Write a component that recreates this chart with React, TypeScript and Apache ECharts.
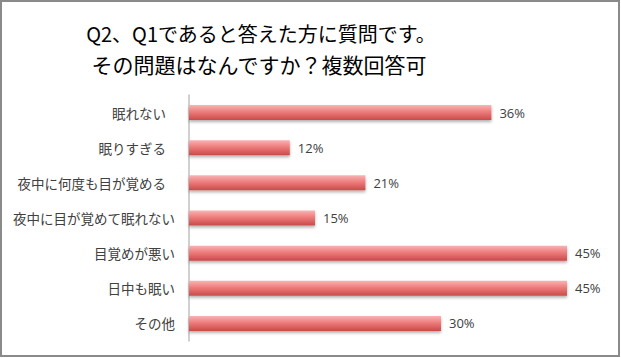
import React, { useEffect, useRef } from "react";
import * as echarts from "echarts";

const titleLines = ["Q2、Q1であると答えた方に質問です。", "その問題はなんですか？複数回答可"];
const categories = [
  "眠れない",
  "眠りすぎる",
  "夜中に何度も目が覚める",
  "夜中に目が覚めて眠れない",
  "目覚めが悪い",
  "日中も眠い",
  "その他",
];
const values = [36, 12, 21, 15, 45, 45, 30];
const paddedLabels = ["眠れない", "眠りすぎる", "夜中に何度も目が覚める"];

export default function App() {
  const ref = useRef<HTMLDivElement>(null);
  useEffect(() => {
    document.body.style.margin = "0";
    const chart = echarts.init(ref.current!, null, { renderer: "svg" });
    const jp = "'Noto Sans CJK JP', 'Noto Sans', sans-serif";
    chart.setOption({
      animation: false,
      backgroundColor: "#ffffff",
      graphic: [
        {
          type: "rect",
          shape: { x: 1, y: 1, width: 618, height: 355 },
          style: { fill: "none", stroke: "#8a8a8a", lineWidth: 2 },
          silent: true,
        },
        {
          type: "text",
          x: 261,
          y: 33,
          style: {
            text: titleLines[0],
            fontSize: 20,
            fontFamily: jp,
            fill: "#000000",
            textAlign: "center",
            textVerticalAlign: "middle",
          },
        },
        {
          type: "text",
          x: 259,
          y: 64,
          style: {
            text: titleLines[1],
            fontSize: 21,
            fontFamily: jp,
            fill: "#000000",
            textAlign: "center",
            textVerticalAlign: "middle",
          },
        },
      ],
      grid: { left: 189, top: 95, width: 420, height: 246, containLabel: false },
      xAxis: {
        type: "value",
        min: 0,
        max: 50,
        show: false,
      },
      yAxis: {
        type: "category",
        data: categories,
        inverse: true,
        axisLine: { show: true, lineStyle: { color: "#c0c0c0", width: 1.5 } },
        axisTick: { show: false },
        axisLabel: {
          margin: 14,
          fontSize: 13.5,
          fontFamily: jp,
          color: "#404040",
          formatter: (v: string) => (paddedLabels.includes(v) ? `{p|${v}}` : v),
          rich: {
            p: {
              fontSize: 13.5,
              fontFamily: jp,
              color: "#404040",
              padding: [0, 9, 0, 0],
            },
          },
        },
      },
      series: [
        {
          type: "bar",
          data: values,
          barWidth: 15,
          itemStyle: {
            color: new echarts.graphic.LinearGradient(0, 0, 0, 1, [
              { offset: 0, color: "#f9b3b3" },
              { offset: 0.45, color: "#ee7c7c" },
              { offset: 1, color: "#c94a48" },
            ]),
            shadowColor: "rgba(0,0,0,0.3)",
            shadowBlur: 3,
            shadowOffsetY: 2,
          },
          label: {
            show: true,
            position: "right",
            distance: 8,
            formatter: "{c}%",
            fontSize: 13,
            fontFamily: "'Open Sans', 'Noto Sans', sans-serif",
            color: "#404040",
          },
        },
      ],
    });
    return () => chart.dispose();
  }, []);
  return <div ref={ref} style={{ width: 621, height: 358 }} />;
}
